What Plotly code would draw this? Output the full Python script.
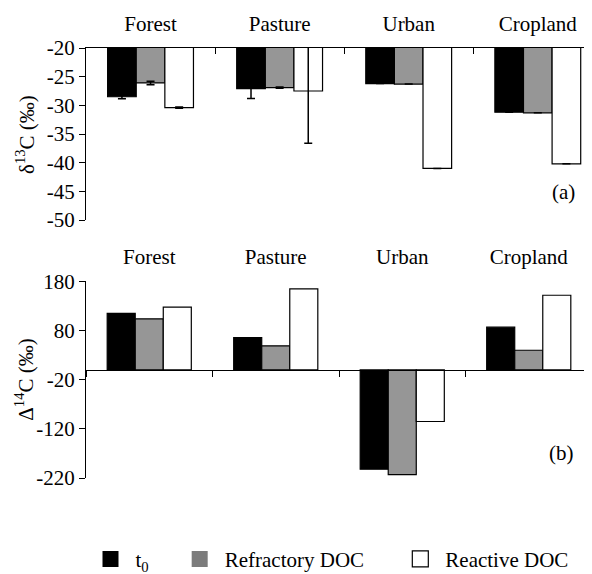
import plotly.graph_objects as go

categories = ["Forest", "Pasture", "Urban", "Cropland"]
series_names = ["t<sub>0</sub>", "Refractory DOC", "Reactive DOC"]

# delta 13C (permil)
d13c_t0 = [-28.5, -27.1, -26.2, -31.2]
d13c_refractory = [-26.1, -26.9, -26.3, -31.3]
d13c_reactive = [-30.4, -27.5, -41.0, -40.2]
d13c_t0_err = [0.35, 1.7, None, None]
d13c_refractory_err = [0.3, 0.1, None, None]
d13c_reactive_err = [0.1, 9.1, None, None]

# Delta 14C (permil)
D14c_t0 = [115, 66, -202, 87]
D14c_refractory = [104, 49, -213, 40]
D14c_reactive = [128, 165, -105, 152]

top_ticks = [-20, -25, -30, -35, -40, -45, -50]
bottom_ticks = [180, 80, -20, -120, -220]

bar_colors = ["#000000", "#969696", "#ffffff"]
legend_colors = ["#000000", "#7c7c7c", "#ffffff"]
legend_pad = ["\u00a0" * 4, "\u00a0" * 5, ""]
FONT = "Liberation Serif, Times New Roman, Times, serif"
FS = 21

fig = go.Figure()

top_vals = [d13c_t0, d13c_refractory, d13c_reactive]
top_errs = [d13c_t0_err, d13c_refractory_err, d13c_reactive_err]
bot_vals = [D14c_t0, D14c_refractory, D14c_reactive]

for i in range(3):
    fig.add_trace(go.Bar(
        x=categories, y=top_vals[i], name=series_names[i], showlegend=False,
        marker=dict(color=bar_colors[i], line=dict(color="#000000", width=1.2)),
        error_y=dict(type="data", array=top_errs[i], visible=True,
                     color="#000000", thickness=1.5, width=4),
        xaxis="x", yaxis="y"))

for i in range(3):
    fig.add_trace(go.Bar(
        x=categories, y=bot_vals[i], name=series_names[i], showlegend=False,
        marker=dict(color=bar_colors[i], line=dict(color="#000000", width=1.2)),
        xaxis="x3", yaxis="y2"))

# legend entries (they also carry the category labels of the lower panel)
for i in range(3):
    fig.add_trace(go.Scatter(
        x=categories, y=[None] * 4, mode="markers",
        name=series_names[i] + legend_pad[i],
        marker=dict(symbol="square", size=16, color=legend_colors[i],
                    line=dict(color="#000000", width=1.2 if i == 2 else 0)),
        xaxis="x2", yaxis="y2"))

top_lo, top_hi = -50, -20
bot_lo, bot_hi = -220, 180
dom_top = [0.6, 1.0]
dom_bot = [0.0, 0.457]
zero_pos = dom_bot[0] + (0 - bot_lo) / (bot_hi - bot_lo) * (dom_bot[1] - dom_bot[0])

axfont = dict(family=FONT, size=FS, color="#000000")

# the page body adds an 8 px offset, so the figure is 8 px smaller
fig.update_layout(
    width=584, height=566,
    margin=dict(l=78, r=0, t=40, b=96, autoexpand=False),
    paper_bgcolor="white", plot_bgcolor="white",
    font=axfont,
    barmode="group", bargap=0.335, bargroupgap=0,
    xaxis=dict(type="category", categoryorder="array", categoryarray=categories,
               range=[-0.5, 3.42], side="top", anchor="y", domain=[0, 1],
               showline=True, linecolor="#000000", linewidth=1,
               ticks="inside", tickson="boundaries", ticklen=6, tickcolor="#000000",
               ticklabelstandoff=8, tickfont=axfont, showgrid=False),
    yaxis=dict(domain=dom_top, range=[top_lo, top_hi], anchor="x",
               tickvals=top_ticks, ticktext=[str(v) for v in top_ticks],
               ticks="outside", ticklen=6, tickcolor="#000000",
               showline=True, linecolor="#000000", linewidth=1,
               showgrid=False, zeroline=False, tickfont=axfont),
    xaxis2=dict(type="category", categoryorder="array", categoryarray=categories,
                range=[-0.5, 3.5], side="top", anchor="y2", domain=[0, 1],
                showline=False, ticks="", ticklabelstandoff=12,
                showgrid=False, tickfont=axfont),
    xaxis3=dict(type="category", categoryorder="array", categoryarray=categories,
                range=[-0.5, 3.5], overlaying="x2", anchor="free", position=zero_pos,
                side="bottom", showline=True, linecolor="#000000", linewidth=1,
                ticks="outside", tickson="boundaries", ticklen=6, tickcolor="#000000",
                showticklabels=False, showgrid=False),
    yaxis2=dict(domain=dom_bot, range=[bot_lo, bot_hi], anchor="x2",
                tickvals=bottom_ticks, ticktext=[str(v) for v in bottom_ticks],
                ticks="outside", ticklen=6, tickcolor="#000000",
                showline=True, linecolor="#000000", linewidth=1,
                showgrid=False, zeroline=False, tickfont=axfont),
    legend=dict(orientation="h", xref="container", yref="container",
                x=0.1327, xanchor="left", y=0.026, yanchor="middle",
                font=axfont, itemwidth=40, traceorder="normal",
                bgcolor="rgba(0,0,0,0)"),
    annotations=[
        dict(text="δ<sup>13</sup>C (‰)", textangle=-90, xref="paper", yref="y domain",
             x=-0.1206, y=0.5, xanchor="center", yanchor="middle", showarrow=False,
             font=axfont),
        dict(text="Δ<sup>14</sup>C (‰)", textangle=-90, xref="paper", yref="y2 domain",
             x=-0.1206, y=0.5, xanchor="center", yanchor="middle", showarrow=False,
             font=axfont),
        dict(text="(a)", xref="x domain", yref="y domain", x=0.9427, y=0.163,
             xanchor="center", yanchor="middle", showarrow=False, font=axfont),
        dict(text="(b)", xref="x domain", yref="y2 domain", x=0.9407, y=0.129,
             xanchor="center", yanchor="middle", showarrow=False, font=axfont),
    ],
)

fig.write_html("out.html")
